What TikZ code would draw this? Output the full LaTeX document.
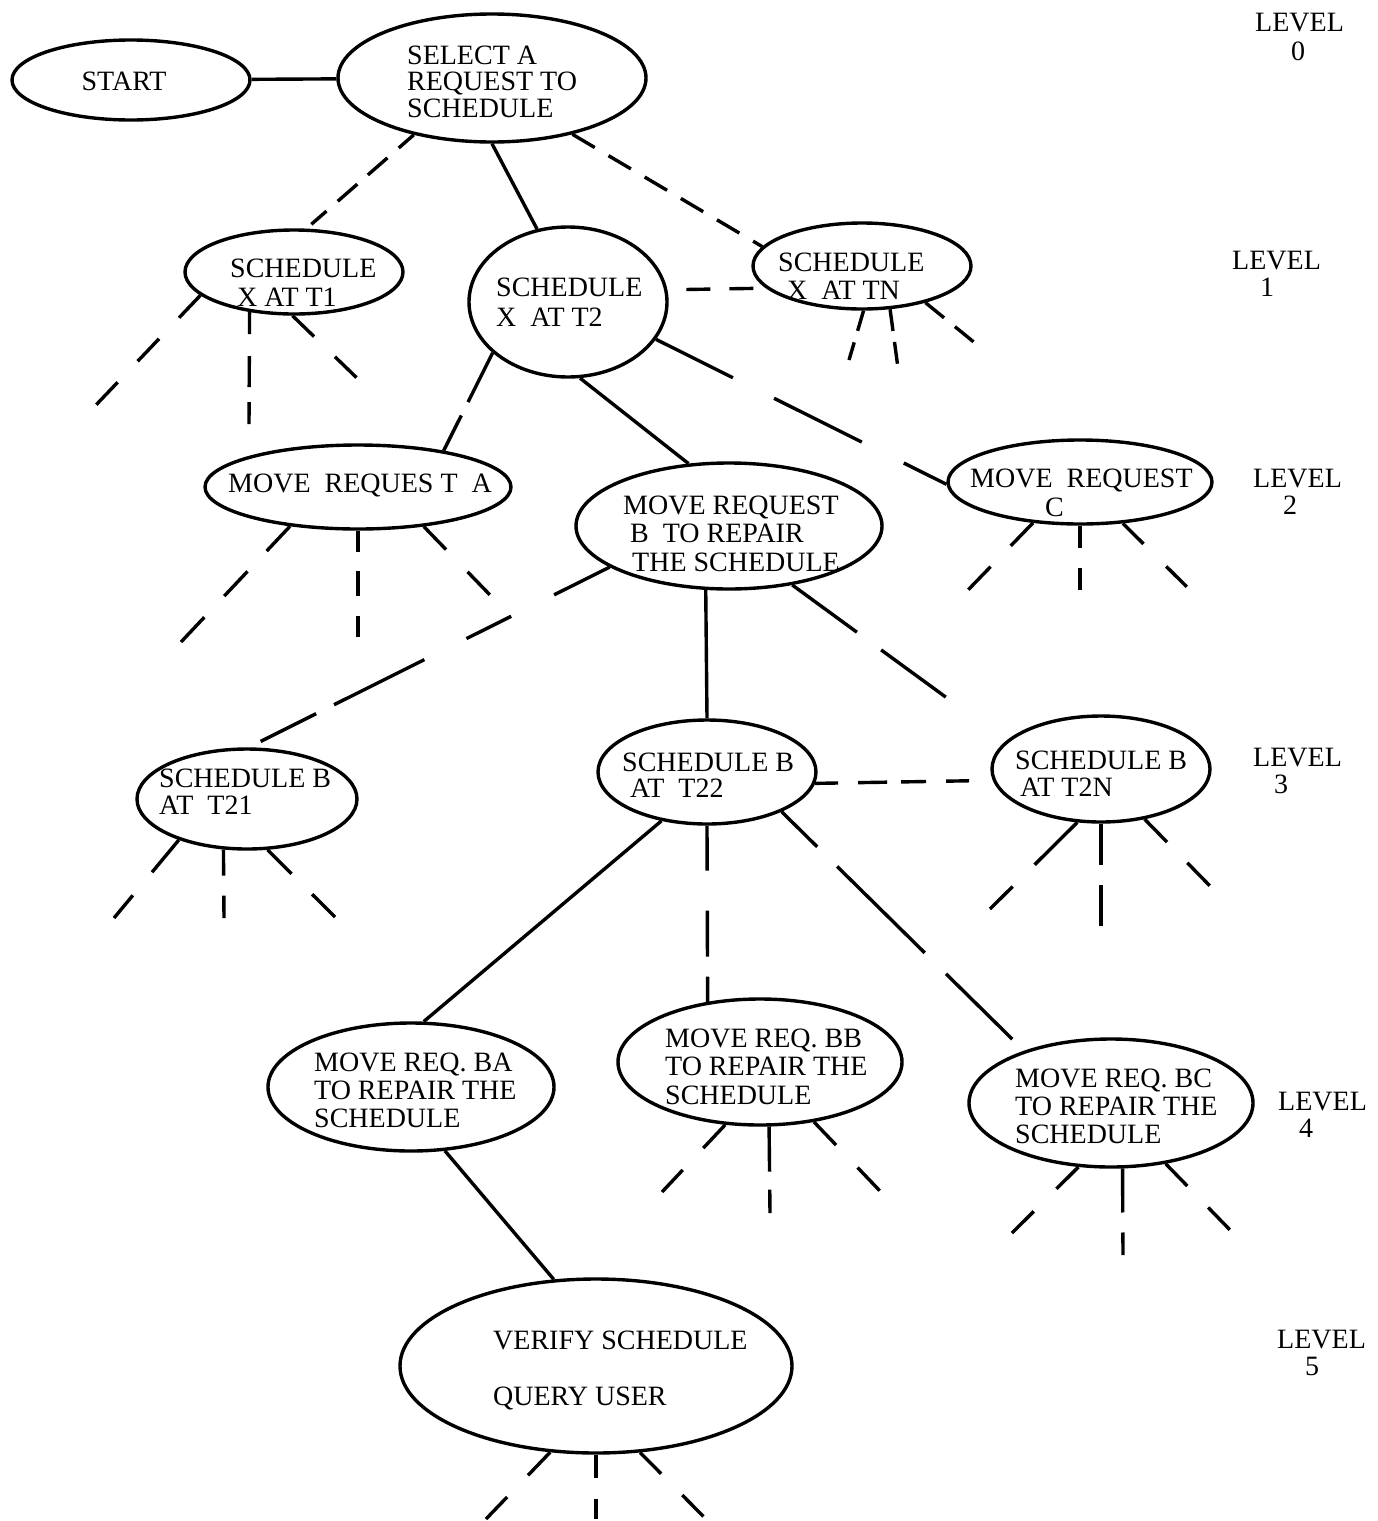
\documentclass[tikz,border=0pt]{standalone}
\usepackage{fontspec}
\setmainfont{Liberation Serif}
\usetikzlibrary{shapes.geometric}
\begin{document}
\begin{tikzpicture}[x=1pt,y=-1pt,
  el/.style 2 args={ellipse, draw, line width=3.4pt, inner sep=0pt, minimum width=#1pt, minimum height=#2pt},
  txt/.style={inner sep=0pt, align=left, anchor=west, font=\fontsize{28}{#1}\selectfont},
  txt/.default=28,
  ln/.style={line width=3.4pt}]
\useasboundingbox (0,0) rectangle (1378,1521);

% ---------- nodes ----------
\node[el={238}{80}] (start) at (131,80) {};
\node[el={308}{128}] (sel) at (492,78) {};
\node[el={218}{84}] (t1) at (294,272) {};
\node[el={198}{150}] (t2) at (568,302) {};
\node[el={218}{86}] (tn) at (862,266) {};
\node[el={306}{84}] (ma) at (358,487) {};
\node[el={306}{126}] (mb) at (729,526) {};
\node[el={264}{84}] (mc) at (1080,482) {};
\node[el={220}{100}] (t21) at (247,799) {};
\node[el={218}{104}] (t22) at (707,772) {};
\node[el={218}{106}] (t2n) at (1101,769) {};
\node[el={286}{128}] (ba) at (411,1087) {};
\node[el={284}{126}] (bb) at (760,1062) {};
\node[el={284}{128}] (bc) at (1111,1103) {};
\node[el={392}{174}] (ver) at (596,1366) {};

% ---------- texts ----------
\node[txt, anchor=center] (startt) at (124,81) {START};
\node[txt=26.5] (selt) at (407,81.5) {SELECT A\\REQUEST TO\\SCHEDULE};
\node[txt=29] (t1t) at (230,282.5) {SCHEDULE\\\hspace*{7pt}X AT T1};
\node[txt=30] (t2t) at (496,302) {SCHEDULE\\X\ \ AT T2};
\node[txt] (tnt) at (778,276) {SCHEDULE\\\hspace*{9pt}X\ \ AT TN};
\node[txt] (mat) at (228,485) {MOVE\ \ REQUES T\ \ A};
\node[txt=28.5] (mbt) at (623,533.5) {MOVE REQUEST\\\hspace*{7pt}B\ \ TO REPAIR\\\hspace*{9pt}THE SCHEDULE};
\node[txt=29] (mct) at (970,492.5) {MOVE\ \ REQUEST\\\hspace*{75pt}C};
\node[txt=27] (t21t) at (159,791.5) {SCHEDULE B\\AT\ \ T21};
\node[txt=26] (t22t) at (622,775) {SCHEDULE B\\\hspace*{8pt}AT\ \ T22};
\node[txt=27] (t2nt) at (1015,773.5) {SCHEDULE B\\\hspace*{5pt}AT T2N};
\node[txt] (bat) at (314,1090) {MOVE REQ. BA\\TO REPAIR THE\\SCHEDULE};
\node[txt=28.5] (bbt) at (665,1066.5) {MOVE REQ. BB\\TO REPAIR THE\\SCHEDULE};
\node[txt] (bct) at (1015,1106) {MOVE REQ. BC\\TO REPAIR THE\\SCHEDULE};
\node[txt] (vert) at (493,1370) {VERIFY SCHEDULE\\[28pt]QUERY USER};

\node[txt=29] (l0) at (1255,36.5) {LEVEL\\\hspace*{36pt}0};
\node[txt=27] (l1) at (1232,273.5) {LEVEL\\\hspace*{28pt}1};
\node[txt=27] (l2) at (1253,491.5) {LEVEL\\\hspace*{30pt}2};
\node[txt=27] (l3) at (1253,770.5) {LEVEL\\\hspace*{21pt}3};
\node[txt=27] (l4) at (1278,1115) {LEVEL\\\hspace*{21pt}4};
\node[txt=27] (l5) at (1277,1353) {LEVEL\\\hspace*{28pt}5};

% ---------- free ends of the stubs ----------
\coordinate (t1a) at (96,405);   \coordinate (t1b) at (249,425);  \coordinate (t1c) at (359,380);
\coordinate (tna) at (849,360);  \coordinate (tnb) at (898,368);  \coordinate (tnc) at (975,343);
\coordinate (maa) at (181,642);  \coordinate (mab) at (358,640);  \coordinate (mac) at (490,595);
\coordinate (mca) at (968,590);  \coordinate (mcb) at (1080,590); \coordinate (mcc) at (1189,589);
\coordinate (mbd) at (947,698);
\coordinate (t21a) at (114,918); \coordinate (t21b) at (224,918); \coordinate (t21c) at (335,917);
\coordinate (t2na) at (990,909); \coordinate (t2nb) at (1101,932); \coordinate (t2nc) at (1211,887);
\coordinate (bba) at (662,1192); \coordinate (bbb) at (770,1213); \coordinate (bbc) at (880,1191);
\coordinate (bca) at (1012,1233); \coordinate (bcb) at (1123,1255); \coordinate (bcc) at (1232,1232);
\coordinate (vera) at (486,1519); \coordinate (verb) at (596,1519); \coordinate (verc) at (704,1517);

% ---------- connectors ----------
\draw[ln] (start) -- (sel);
\draw[ln, dash pattern=on 20pt off 15pt on 26pt off 14pt on 26pt off 15pt] (sel.216.5) -- (t1.74.7);
\draw[ln] (sel.270.9) -- (t2.113.4);
\draw[ln, dash pattern=on 26pt off 16pt] (sel.325.7) -- (tn.169.5);
\draw[ln, dash pattern=on 24pt off 19pt, dash phase=24pt] (t2.7.5) -- (tn.193);

\draw[ln, dash pattern=on 31pt off 29pt] (t1.194.5) -- (t1a);
\draw[ln, dash pattern=on 22pt off 22pt on 31pt off 15pt] (t1.222.5) -- (t1b);
\draw[ln, dash pattern=on 30pt off 29pt] (t1.268) -- (t1c);

\draw[ln, dash pattern=on 21pt off 12pt] (tn.272.6) -- (tna);
\draw[ln, dash pattern=on 22pt off 11pt] (tn.303.4) -- (tnb);
\draw[ln, dash pattern=on 24pt off 14pt] (tn.330) -- (tnc);

\draw[ln, dash pattern=on 55pt off 15pt] (t2.214.5) -- (ma.23);
\draw[ln] (t2.279) -- (mb.123);
\draw[ln, dash pattern=on 86pt off 46pt on 98pt off 47pt] (t2.337.9) -- (mc.181);

\draw[ln, dash pattern=on 34pt off 28pt on 34pt off 29pt] (ma.210.6) -- (maa);
\draw[ln, dash pattern=on 21pt off 19pt on 25pt off 20pt] (ma.south) -- (mab);
\draw[ln, dash pattern=on 32pt off 31pt] (ma.329.4) -- (mac);

\draw[ln, dash pattern=on 32pt off 29pt] (mc.221.2) -- (mca);
\draw[ln, dash pattern=on 22pt off 20pt] (mc.south) -- (mcb);
\draw[ln, dash pattern=on 29pt off 32pt] (mc.316.6) -- (mcc);

\draw[ln, dash pattern=on 62pt off 48pt on 50pt off 47pt on 101pt off 20pt] (mb.199.4) -- (t21.88);
\draw[ln] (mb.250.8) -- (t22.north);
\draw[ln, dash pattern=on 80pt off 30pt] (mb.317.7) -- (mbd);

\draw[ln, dash pattern=on 23pt off 20pt on 29pt off 14pt on 25pt off 20pt on 23pt off 40pt] (t22.354.8) -- (t2n.186.9);

\draw[ln, dash pattern=on 42pt off 30pt] (t21.211.8) -- (t21a);
\draw[ln, dash pattern=on 26pt off 20pt] (t21.245.3) -- (t21b);
\draw[ln, dash pattern=on 34pt off 29pt] (t21.292.8) -- (t21c);

\draw[ln] (t22.227.8) -- (ba.79.5);
\draw[ln, dash pattern=on 45pt off 40pt on 46pt off 20pt] (t22.south) -- (bb.131.7);
\draw[ln, dash pattern=on 50pt off 28pt on 123pt off 30pt on 93pt off 40pt] (t22.332.2) -- (bc.149.9);

\draw[ln, dash pattern=on 60pt off 31pt] (t2n.246.5) -- (t2na);
\draw[ln, dash pattern=on 41pt off 20pt] (t2n.south) -- (t2nb);
\draw[ln, dash pattern=on 32pt off 29pt] (t2n.311.6) -- (t2nc);

\draw[ln] (ba.298.3) -- (ver.116.6);

\draw[ln, dash pattern=on 32pt off 30pt] (bb.241.3) -- (bba);
\draw[ln, dash pattern=on 45pt off 18pt] (bb.278.9) -- (bbb);
\draw[ln, dash pattern=on 32pt off 31pt] (bb.312.9) -- (bbc);

\draw[ln, dash pattern=on 31pt off 32pt] (bc.243.2) -- (bca);
\draw[ln, dash pattern=on 44pt off 20pt] (bc.280.5) -- (bcb);
\draw[ln, dash pattern=on 31pt off 30pt] (bc.312.5) -- (bcc);

\draw[ln, dash pattern=on 32pt off 30pt] (ver.242.9) -- (vera);
\draw[ln, dash pattern=on 23pt off 21pt] (ver.south) -- (verb);
\draw[ln, dash pattern=on 30pt off 30pt] (ver.297.1) -- (verc);
\end{tikzpicture}
\end{document}
